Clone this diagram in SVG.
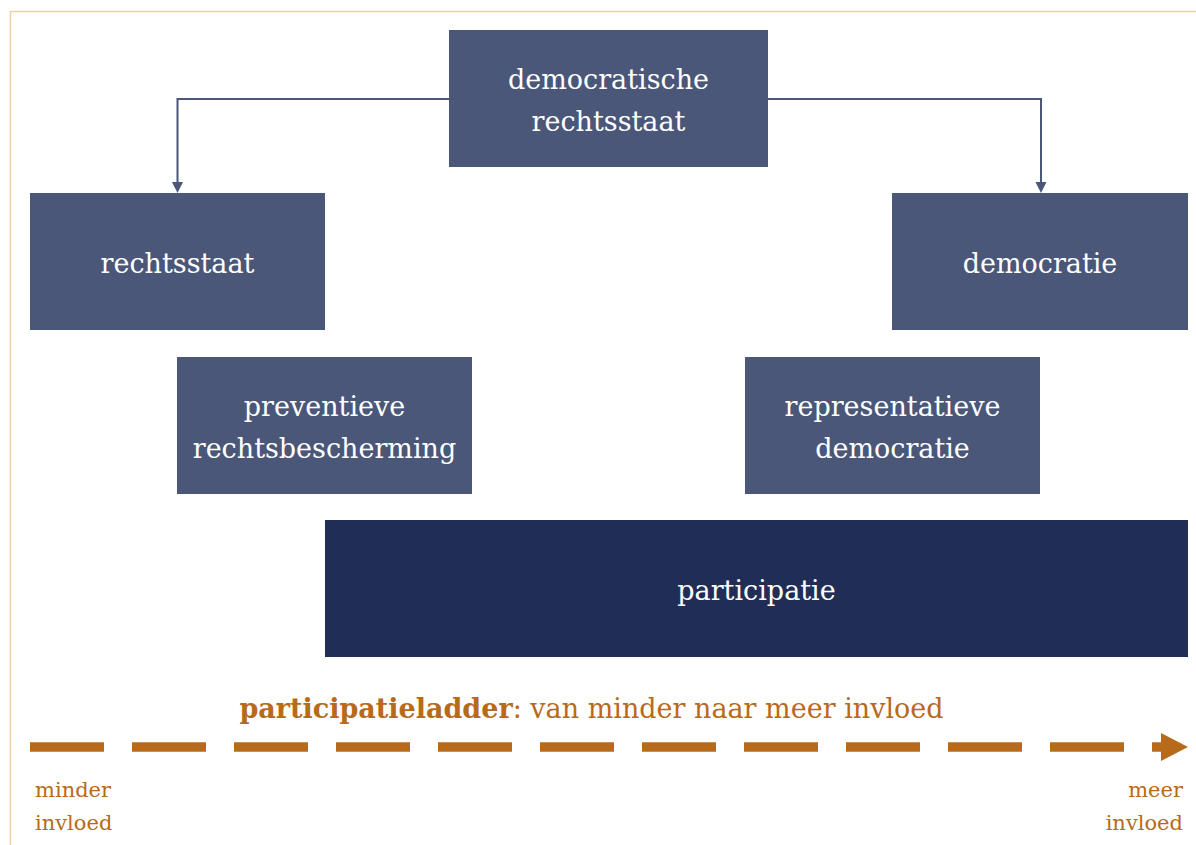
<svg xmlns="http://www.w3.org/2000/svg" width="1196" height="845" viewBox="0 0 1196 845">
<style>
.box{fill:#4A5779}
.dark{fill:#202E57}
.t{font-family:"DejaVu Serif",serif;font-size:27px;fill:#FFFFFF;text-anchor:middle}
.o{font-family:"DejaVu Serif",serif;fill:#B86A1B}
.conn{fill:none;stroke:#4A5779;stroke-width:2}
</style>
<rect x="0" y="0" width="1196" height="845" fill="#FFFFFF"/>
<path d="M10.5,845 V11.5 H1196" fill="none" stroke="#EBCFA5" stroke-width="1.5"/>
<g id="connectors">
<path class="conn" d="M449,99 H177.5 V183"/>
<path d="M172,182 L183,182 L177.5,193 Z" fill="#4A5779"/>
<path class="conn" d="M768,99 H1041 V183"/>
<path d="M1035.5,182 L1046.5,182 L1041,193 Z" fill="#4A5779"/>
</g>
<g id="node-democratische-rechtsstaat">
<rect class="box" x="449" y="30" width="319" height="137"/>
<text class="t" x="608.5" y="89">democratische</text>
<text class="t" x="608.5" y="131">rechtsstaat</text>
</g>
<g id="node-rechtsstaat">
<rect class="box" x="30" y="193" width="295" height="137"/>
<text class="t" x="177.5" y="273">rechtsstaat</text>
</g>
<g id="node-democratie">
<rect class="box" x="892" y="193" width="296" height="137"/>
<text class="t" x="1040" y="273">democratie</text>
</g>
<g id="node-preventieve-rechtsbescherming">
<rect class="box" x="177" y="357" width="295" height="137"/>
<text class="t" x="324.5" y="416">preventieve</text>
<text class="t" x="324.5" y="458">rechtsbescherming</text>
</g>
<g id="node-representatieve-democratie">
<rect class="box" x="745" y="357" width="295" height="137"/>
<text class="t" x="892.5" y="416">representatieve</text>
<text class="t" x="892.5" y="458">democratie</text>
</g>
<g id="node-participatie">
<rect class="dark" x="325" y="520" width="863" height="137"/>
<text class="t" x="756.5" y="600">participatie</text>
</g>
<g id="ladder">
<text class="o" x="591.5" y="718" font-size="27" text-anchor="middle"><tspan font-weight="bold">participatieladder</tspan>: van minder naar meer invloed</text>
<path d="M30,747 H1162" fill="none" stroke="#B86A1B" stroke-width="9.5" stroke-dasharray="74 28"/>
<path d="M1161,733 L1188,747 L1161,761 Z" fill="#B86A1B"/>
<text class="o" font-size="21" x="35" y="797">minder</text>
<text class="o" font-size="21" x="35" y="830">invloed</text>
<text class="o" font-size="21" x="1183" y="797" text-anchor="end">meer</text>
<text class="o" font-size="21" x="1183" y="830" text-anchor="end">invloed</text>
</g>
</svg>
